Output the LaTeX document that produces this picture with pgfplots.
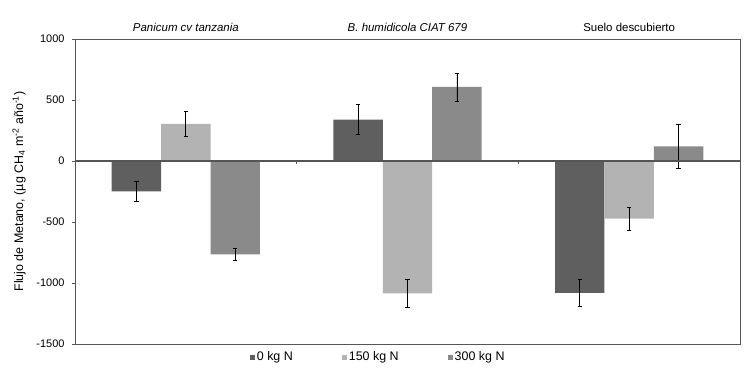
\documentclass[border=0pt]{standalone}
\usepackage{pgfplots}
\pgfplotsset{compat=1.18}
\usetikzlibrary{calc}
\usepackage{fontspec}
\setmainfont{Liberation Sans}
\definecolor{cA}{HTML}{5F5F5F}
\definecolor{cB}{HTML}{B3B3B3}
\definecolor{cC}{HTML}{8A8A8A}
\definecolor{axc}{HTML}{555555}
\begin{document}
\begin{tikzpicture}
\begin{axis}[
  scale only axis, width=665bp, height=305bp,
  xmin=-0.5, xmax=2.5, ymin=-1500, ymax=1000,
  ybar, bar width=0.223,
  axis line style={axc, line width=0.8pt},
  xtick={0,1,2},
  xticklabels={\textit{Panicum cv tanzania}, \textit{B. humidicola CIAT 679}, Suelo descubierto},
  xticklabel pos=upper, x tick style={draw=none},
  xticklabel style={yshift=1bp, font=\fontsize{11.5}{13}\selectfont},
  ytick={-1500,-1000,-500,0,500,1000},
  ytick pos=left, tick align=outside, major tick length=3bp, y tick style={axc, line width=0.7pt},
  yticklabel style={xshift=-4bp, font=\fontsize{11}{13}\selectfont, /pgf/number format/.cd, set thousands separator={}, assume math mode=true},
  ylabel={Flujo de Metano, (µg CH\textsubscript{4} m\textsuperscript{-2} año\textsuperscript{-1})},
  ylabel style={font=\fontsize{12.5}{14}\selectfont, yshift=4bp},
  legend columns=3,
  legend style={draw=none, at={(0.456,-0.043)}, anchor=center, font=\fontsize{12.5}{14}\selectfont,
    nodes={inner xsep=1.5bp},
    /tikz/every even column/.append style={column sep=48bp}},
  legend image code/.code={\fill[#1] (0bp,-2.5bp) rectangle (5bp,2.5bp);},
  error bars/y dir=both, error bars/y explicit,
  error bars/error bar style={black, line width=0.8pt},
  error bars/error mark options={rotate=90, mark size=2.2bp, black, line width=0.8pt},
]
\addplot[fill=cA, draw=none, bar shift=-0.223] coordinates {
 (0,-250) +- (0,85)
 (1,340) +- (0,120)
 (2,-1080) +- (0,113)
};
\addplot[fill=cB, draw=none, bar shift=0] coordinates {
 (0,305) +- (0,100)
 (1,-1085) +- (0,115)
 (2,-473) +- (0,93)
};
\addplot[fill=cC, draw=none, bar shift=0.223] coordinates {
 (0,-765) +- (0,52)
 (1,607) +- (0,115)
 (2,120) +- (0,178)
};
\legend{0 kg N, 150 kg N, 300 kg N}
\draw[axc, line width=1.1pt] (rel axis cs:0,0.6) -- (rel axis cs:1,0.6);
\draw[axc, line width=0.7pt] (axis cs:0.5,0) -- ([yshift=-3bp]axis cs:0.5,0);
\draw[axc, line width=0.7pt] (axis cs:1.5,0) -- ([yshift=-3bp]axis cs:1.5,0);
\coordinate (bl) at (rel axis cs:0,0);
\coordinate (tr) at (rel axis cs:1,1);
\end{axis}
\pgfresetboundingbox
\path (bl) ++(-75bp,-31bp) rectangle ($(tr)+(10bp,39bp)$);
\end{tikzpicture}
\end{document}
